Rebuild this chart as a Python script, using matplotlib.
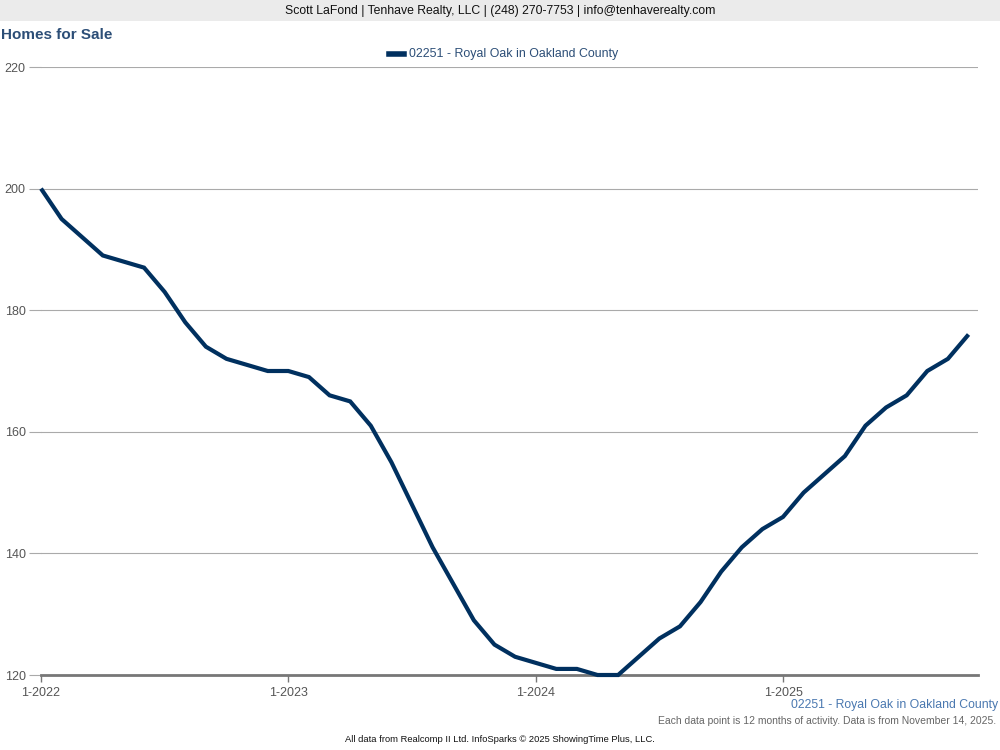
import matplotlib
matplotlib.use("Agg")
import matplotlib.pyplot as plt
from matplotlib.patches import Rectangle
from matplotlib.lines import Line2D

plt.rcParams['font.family'] = ['Liberation Sans', 'DejaVu Sans']

months = list(range(46))  # Jan 2022 .. Oct 2025
values = [200, 195, 192, 189, 188, 187, 183, 178, 174, 172, 171, 170,
          170, 169, 166, 165, 161, 155, 148, 141, 135, 129, 125, 123,
          122, 121, 121, 120, 120, 123, 126, 128, 132, 137, 141, 144,
          146, 150, 153, 156, 161, 164, 166, 170, 172, 176]
xtick_pos = [0, 12, 24, 36]
xtick_labels = ['1-2022', '1-2023', '1-2024', '1-2025']
yticks = [120, 140, 160, 180, 200, 220]
series_name = '02251 - Royal Oak in Oakland County'

fig = plt.figure(figsize=(10, 7.5), dpi=100)
fig.patch.set_facecolor('white')

# header band
fig.patches.append(Rectangle((0, 1 - 21/750), 1, 21/750, transform=fig.transFigure,
                             facecolor='#ebebeb', edgecolor='none', zorder=0))
fig.text(0.5, 1 - 11/750, 'Scott LaFond | Tenhave Realty, LLC | (248) 270-7753 | info@tenhaverealty.com',
         ha='center', va='center', fontsize=8.8, color='#111111')
fig.text(0.001, 1 - 35/750, 'Homes for Sale', ha='left', va='center', fontsize=11,
         fontweight='bold', color='#2c4e77')

ax = fig.add_axes([41/1000, 1 - 675/750, 937/1000, 608/750])
line_color = '#00305f'
ax.plot(months, values, color=line_color, linewidth=3.0, solid_capstyle='butt',
        solid_joinstyle='miter', zorder=3, clip_on=False)
ax.set_xlim(0, 45.46)
ax.set_ylim(120, 220)
ax.set_yticks(yticks)
ax.set_yticklabels([str(v) for v in yticks])
ax.set_xticks(xtick_pos)
ax.set_xticklabels(xtick_labels)
ax.grid(axis='y', color='#aaaaaa', linewidth=0.8, zorder=1)
for s in ['top', 'right', 'left']:
    ax.spines[s].set_visible(False)
ax.spines['bottom'].set_color('#777777')
ax.spines['bottom'].set_linewidth(2)
ax.spines['bottom'].set_zorder(2)
ax.tick_params(axis='y', length=9, color='#aaaaaa', width=0.8, labelsize=9,
               labelcolor='#555555', pad=2)
ax.tick_params(axis='x', length=5, color='#777777', width=1, labelsize=9,
               labelcolor='#555555', pad=4, direction='out')

# legend
leg_y = 1 - 54/750
fig.add_artist(Line2D([389/1000, 404/1000], [leg_y, leg_y], color=line_color,
                      linewidth=4, transform=fig.transFigure))
fig.text(409/1000, leg_y, series_name, ha='left', va='center', fontsize=8.9, color='#2c4e77')

fig.text(998/1000, 1 - 705/750, series_name, ha='right', va='center', fontsize=8.8,
         color='#4a78b0')
fig.text(996/1000, 1 - 721/750, 'Each data point is 12 months of activity. Data is from November 14, 2025.',
         ha='right', va='center', fontsize=7.5, color='#666666')
fig.text(0.5, 1 - 740/750, 'All data from Realcomp II Ltd. InfoSparks \u00a9 2025 ShowingTime Plus, LLC.',
         ha='center', va='center', fontsize=6.75, color='#111111')

fig.savefig('out.png', dpi=100, facecolor='white')
